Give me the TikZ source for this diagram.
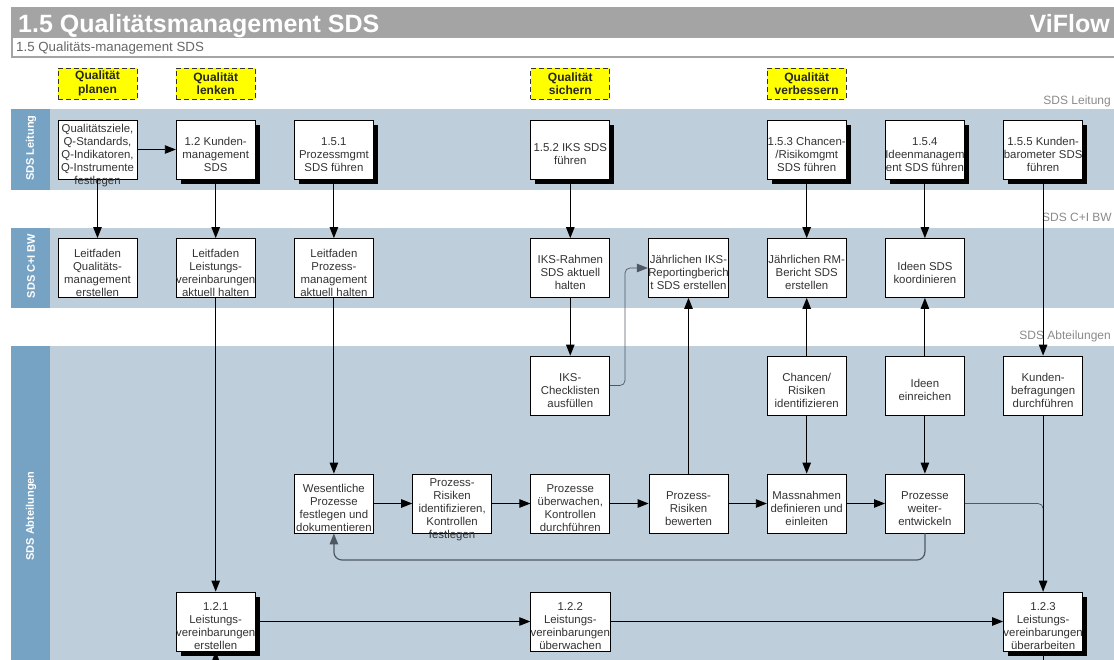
\documentclass[tikz,border=0pt]{standalone}
\usepackage{fontspec}
\setmainfont{Liberation Sans}
\usetikzlibrary{arrows.meta,shadows}

\definecolor{lanecol}{HTML}{BECEDB}
\definecolor{bandcol}{HTML}{76A2C4}
\definecolor{hdrgray}{HTML}{A4A4A4}
\definecolor{txtgray}{HTML}{333333}
\definecolor{lblgray}{HTML}{8A8A8A}
\definecolor{loopcol}{HTML}{4E5862}
\definecolor{qyellow}{HTML}{FFFF00}

\newcommand{\bt}[1]{\raisebox{-9pt}[0pt][0pt]{\fontsize{11.4}{13}\selectfont\begin{tabular}[c]{@{}c@{}}#1\end{tabular}}}

\begin{document}
\begin{tikzpicture}[x=1pt,y=-1pt,
  proc/.style={draw=black, line width=0.8pt, fill=white, minimum width=79pt, minimum height=59pt, inner sep=0pt, text=txtgray},
  shproc/.style={proc, drop shadow={fill=black, opacity=1, shadow xshift=4.5pt, shadow yshift=-4.5pt}},
  qbox/.style={draw=black!80, dash pattern=on 5pt off 3pt, line width=1pt, fill=qyellow, minimum width=79pt, minimum height=31pt, inner sep=0pt, align=center, text=black!85, font=\bfseries\fontsize{12}{13.5}\selectfont},
  conn/.style={draw=black, line width=0.9pt, -{Triangle[length=11pt,width=8.5pt]}},
  plainconn/.style={draw=black, line width=0.9pt},
  thinconn/.style={draw=loopcol, line width=0.7pt, rounded corners=5pt},
  loopconn/.style={draw=loopcol, line width=1.2pt, rounded corners=8pt},
  lanelbl/.style={rotate=90, text=white, font=\bfseries\fontsize{11}{12}\selectfont, inner sep=0pt},
  rlbl/.style={anchor=east, text=lblgray, font=\fontsize{12}{14}\selectfont, inner sep=0pt}
]
\useasboundingbox (0,0) rectangle (1114,659);
\clip (0,0) rectangle (1114,659);

% header
\fill[hdrgray] (11,7) rectangle (1114,37);
\draw[draw=hdrgray, line width=1.5pt, fill=white] (11.75,37.5) rectangle (1118,57);
\node[anchor=base west, inner sep=0pt, text=white, font=\bfseries\fontsize{25}{28}\selectfont] (title) at (18,32) {1.5 Qualitätsmanagement SDS};
\node[anchor=base east, inner sep=0pt, text=white, font=\bfseries\fontsize{25}{28}\selectfont] (viflow) at (1110,32) {ViFlow};
\node[anchor=base west, inner sep=0pt, text=black!60, font=\fontsize{13.3}{15}\selectfont] (subtitle) at (16,51.5) {1.5 Qualitäts-management SDS};

% lanes
\fill[lanecol] (11,109) rectangle (1114,190);
\fill[bandcol] (11,109) rectangle (50,190);
\fill[lanecol] (11,228) rectangle (1114,308);
\fill[bandcol] (11,228) rectangle (50,308);
\fill[lanecol] (11,346) rectangle (1114,670);
\fill[bandcol] (11,346) rectangle (50,670);

\node[lanelbl] (ln1) at (31,148) {SDS Leitung};
\node[lanelbl] (ln2) at (31,266) {SDS C+I BW};
\node[lanelbl] (ln3) at (31,516) {SDS Abteilungen};

\node[rlbl] (rl1) at (1111,101) {SDS Leitung};
\node[rlbl] (rl2) at (1112,217) {SDS C+I BW};
\node[rlbl] (rl3) at (1111,336) {SDS Abteilungen};

% yellow phase boxes
\node[qbox] (q1) at (97.5,83.5) {Qualität\\planen};
\node[qbox] (q2) at (215.7,83.5) {Qualität\\lenken};
\node[qbox] (q3) at (570.3,83.5) {Qualität\\sichern};
\node[qbox] (q4) at (806.7,83.5) {Qualität\\verbessern};

% SDS Leitung
\node[proc]   (A) at (97.5,149.5)  {\bt{Qualitätsziele,\\Q-Standards,\\Q-Indikatoren,\\Q-Instrumente\\festlegen}};
\node[shproc] (B) at (215.7,149.5) {\bt{1.2 Kunden-\\management\\SDS}};
\node[shproc] (C) at (333.9,149.5) {\bt{1.5.1\\Prozessmgmt\\SDS führen}};
\node[shproc] (D) at (570.3,149.5) {\bt{1.5.2 IKS SDS\\führen}};
\node[shproc] (E) at (806.7,149.5) {\bt{1.5.3 Chancen-\\/Risikomgmt\\SDS führen}};
\node[shproc] (F) at (924.9,149.5) {\bt{1.5.4\\Ideenmanagem\\ent SDS führen}};
\node[shproc] (G) at (1043.1,149.5) {\bt{1.5.5 Kunden-\\barometer SDS\\führen}};

% SDS C+I BW
\node[proc] (H) at (97.5,268)  {\bt{Leitfaden\\Qualitäts-\\management\\erstellen}};
\node[proc] (I) at (215.7,268) {\bt{Leitfaden\\Leistungs-\\vereinbarungen\\aktuell halten}};
\node[proc] (J) at (333.9,268) {\bt{Leitfaden\\Prozess-\\management\\aktuell halten}};
\node[proc] (K) at (570.3,268) {\bt{IKS-Rahmen\\SDS aktuell\\halten}};
\node[proc] (L) at (688.5,268) {\bt{Jährlichen IKS-\\Reportingberich\\t SDS erstellen}};
\node[proc] (M) at (806.7,268) {\bt{Jährlichen RM-\\Bericht SDS\\erstellen}};
\node[proc] (N) at (924.9,268) {\bt{Ideen SDS\\koordinieren}};

% SDS Abteilungen row 1
\node[proc] (O) at (570.3,385.5)  {\bt{IKS-\\Checklisten\\ausfüllen}};
\node[proc] (P) at (806.7,385.5)  {\bt{Chancen/\\Risiken\\identifizieren}};
\node[proc] (Q) at (924.9,385.5)  {\bt{Ideen\\einreichen}};
\node[proc] (R) at (1043.1,385.5) {\bt{Kunden-\\befragungen\\durchführen}};

% row 2
\node[proc] (S) at (333.9,503.5) {\bt{Wesentliche\\Prozesse\\festlegen und\\dokumentieren}};
\node[proc] (T) at (452.1,503.5) {\bt{Prozess-\\Risiken\\identifizieren,\\Kontrollen\\festlegen}};
\node[proc] (U) at (570.3,503.5) {\bt{Prozesse\\überwachen,\\Kontrollen\\durchführen}};
\node[proc] (V) at (688.5,503.5) {\bt{Prozess-\\Risiken\\bewerten}};
\node[proc] (W) at (806.7,503.5) {\bt{Massnahmen\\definieren und\\einleiten}};
\node[proc] (X) at (924.9,503.5) {\bt{Prozesse\\weiter-\\entwickeln}};

% row 3
\node[shproc] (Y)  at (215.7,621.5)  {\bt{1.2.1\\Leistungs-\\vereinbarungen\\erstellen}};
\node[proc]   (Z)  at (570.3,621.5)  {\bt{1.2.2\\Leistungs-\\vereinbarungen\\überwachen}};
\node[shproc] (AA) at (1043.1,621.5) {\bt{1.2.3\\Leistungs-\\vereinbarungen\\überarbeiten}};

% helper coordinates
\coordinate (kinkIKS) at (625,385.5);
\coordinate (loopR) at (924.9,560);
\coordinate (loopL) at (333.9,560);
\coordinate (mergeK) at (1043.1,503.5);
\coordinate (ybot) at (215.7,680);
\coordinate (aabot) at (1043.1,680);

% connectors
\draw[conn] (A) -- (B);
\draw[conn] (A) -- (H);
\draw[conn] (B) -- (I);
\draw[conn] (C) -- (J);
\draw[conn] (D) -- (K);
\draw[conn] (E) -- (M);
\draw[conn] (F) -- (N);
\draw[conn] (G) -- (R);
\draw[conn] (I) -- (Y);
\draw[conn] (J) -- (S);
\draw[conn] (K) -- (O);
\draw[thinconn, -{Triangle[length=11pt,width=8.5pt]}] (O.east) -- (kinkIKS) |- (L.west);
\draw[conn] (V) -- (L);
\draw[conn] (P) -- (M);
\draw[conn] (Q) -- (N);
\draw[conn] (P) -- (W);
\draw[conn] (Q) -- (X);
\draw[conn] (S) -- (T);
\draw[conn] (T) -- (U);
\draw[conn] (U) -- (V);
\draw[conn] (V) -- (W);
\draw[conn] (W) -- (X);
\draw[loopconn, -{Triangle[length=11pt,width=8.5pt]}] (X.south) -- (loopR) -- (loopL) -- (S.south);
\draw[thinconn] (X.east) -- (mergeK) -- (AA.north);
\draw[conn] (R) -- (AA);
\draw[conn] (Y) -- (Z);
\draw[conn] (Z) -- (AA);
\draw[conn] (ybot) -- (Y.south);
\draw[plainconn] (AA.south) -- (aabot);
\end{tikzpicture}
\end{document}
